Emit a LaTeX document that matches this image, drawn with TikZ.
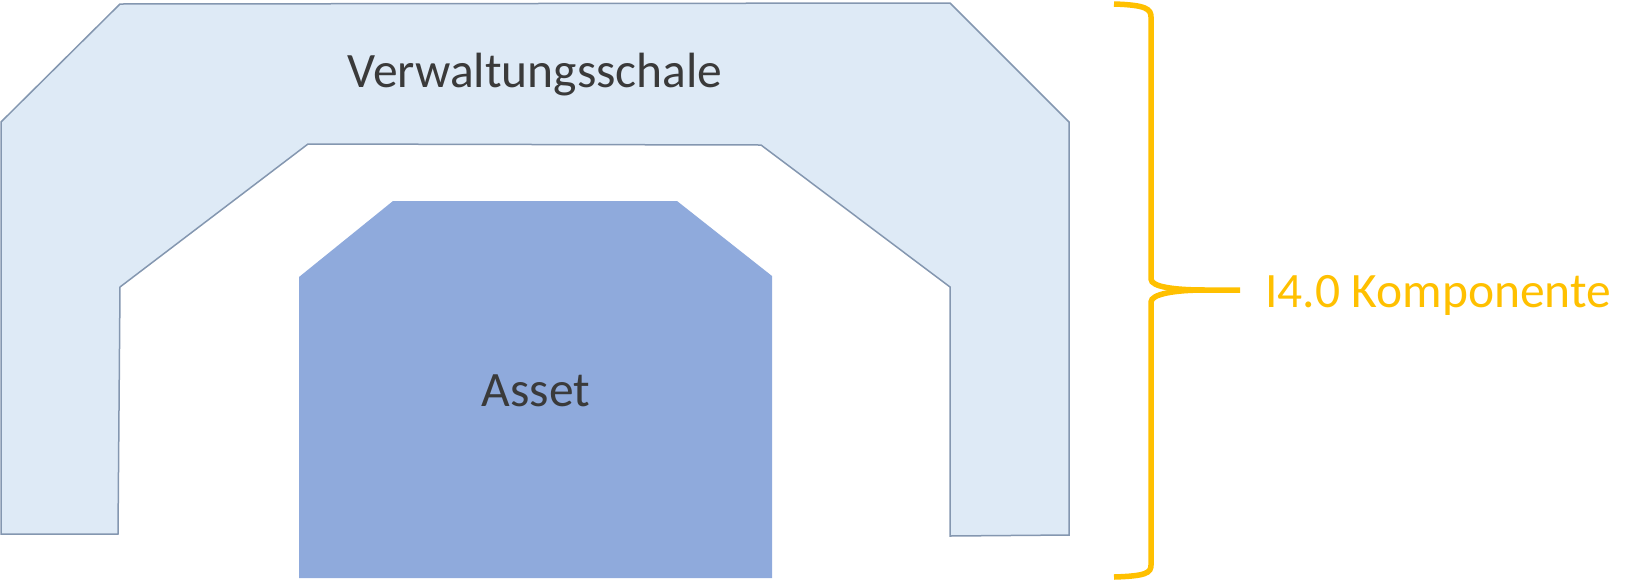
\documentclass[tikz,border=0pt]{standalone}
\usepackage{fontspec}
\setmainfont{Carlito}
\usetikzlibrary{positioning}
\definecolor{shellfill}{HTML}{DEEAF6}
\definecolor{shelldraw}{HTML}{8497B0}
\definecolor{assetfill}{HTML}{8FAADC}
\definecolor{textgray}{HTML}{3A3A3A}
\definecolor{braceyellow}{HTML}{FFC000}
\begin{document}
\begin{tikzpicture}[x=1pt, y=-1pt,
	label text/.style={font=\fontsize{49.5}{56}\selectfont, inner sep=0pt, anchor=base}]
	\useasboundingbox (0, 0) rectangle (1640, 582);
	
	% Verwaltungsschale
	\draw[shelldraw, fill=shellfill, line width=1.5pt, line join=miter]
		(120, 4) -- (950, 3) -- (1069, 122) -- (1069, 535) -- (950, 536)
		-- (950, 287) -- (761, 145) -- (308, 144) -- (120, 287)
		-- (118, 534) -- (1, 534) -- (1, 122) -- cycle;
	\node[label text, textgray] (vws) at (535, 87) {Verwaltungsschale};
	
	% Asset
	\fill[assetfill] (299, 277) -- (393, 201) -- (677, 201) -- (772, 276)
		-- (772, 578) -- (299, 578) -- cycle;
	\node[label text, textgray] (asset) at (536, 406) {Asset};
	
	% Klammer
	\coordinate (BT) at (1114, 4);
	\coordinate (BM) at (1205, 290);
	\coordinate (tip) at (1240, 290);
	\coordinate (BB) at (1114, 577);
	\draw[braceyellow, line width=5.5pt]
		(BT) .. controls (1146, 5) and (1151, 9) .. (1151, 17) -- (1151, 279)
		.. controls (1151, 287) and (1175, 290) .. (BM) -- (tip);
	\draw[braceyellow, line width=5.5pt]
		(BM) .. controls (1175, 290) and (1151, 294) .. (1151, 302) -- (1151, 565)
		.. controls (1151, 573) and (1146, 576) .. (BB);
	\node[label text, braceyellow, anchor=base west] (komp) at (1265, 307) {I4.0 Komponente};
\end{tikzpicture}
\end{document}
